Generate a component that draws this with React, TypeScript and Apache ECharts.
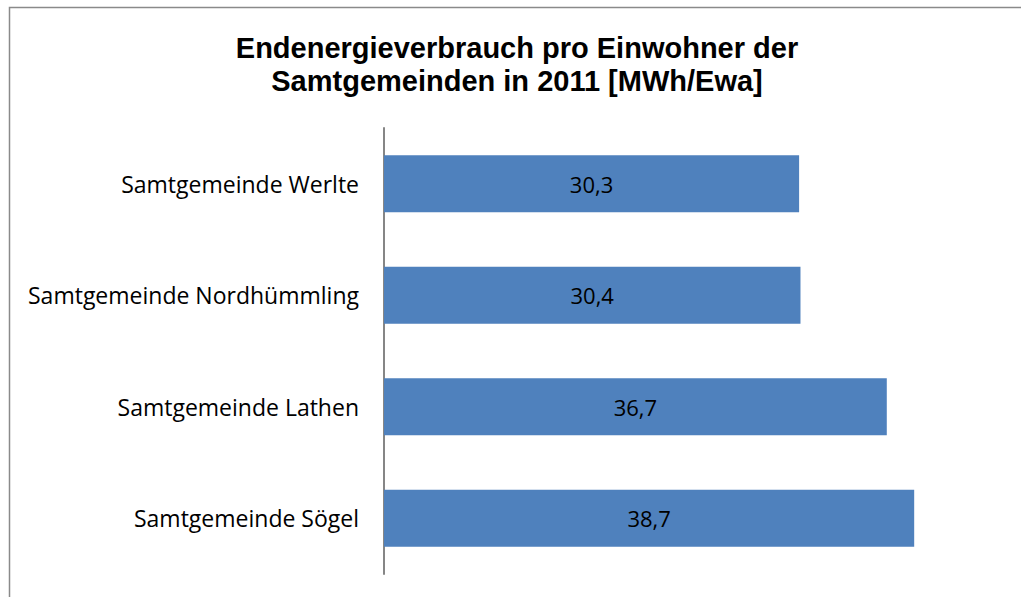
import React, { useEffect, useRef } from "react";
import * as echarts from "echarts";

const categories = [
  "Samtgemeinde Werlte",
  "Samtgemeinde Nordhümmling",
  "Samtgemeinde Lathen",
  "Samtgemeinde Sögel",
];
const values = [30.3, 30.4, 36.7, 38.7];
const titleText = "Endenergieverbrauch pro Einwohner der\nSamtgemeinden in 2011 [MWh/Ewa]";

export default function App() {
  const ref = useRef<HTMLDivElement>(null);
  useEffect(() => {
    if (!ref.current) return;
    const chart = echarts.init(ref.current, null, { renderer: "svg" });
    chart.setOption({
      animation: false,
      backgroundColor: "#ffffff",
      title: {
        text: titleText,
        left: 512,
        textAlign: "center",
        top: 26,
        textStyle: {
          fontFamily: "Liberation Sans",
          fontWeight: "bold",
          fontSize: 29,
          lineHeight: 33,
          color: "#000000",
        },
      },
      graphic: [
        {
          type: "rect",
          shape: { x: 9.5, y: 7.5, width: 1100, height: 700 },
          style: { fill: "none", stroke: "#8a8a8a", lineWidth: 1.5 },
          silent: true,
        },
      ],
      grid: { left: 384, top: 128, width: 616.5, height: 446 },
      xAxis: {
        type: "value",
        min: 0,
        max: 45,
        show: false,
      },
      yAxis: {
        type: "category",
        data: categories,
        inverse: true,
        axisLine: { show: true, lineStyle: { color: "#868686", width: 2 } },
        axisTick: { show: false },
        axisLabel: {
          fontFamily: "Open Sans",
          fontSize: 23,
          color: "#000000",
          margin: 25,
        },
      },
      series: [
        {
          type: "bar",
          data: values,
          barCategoryGap: "49%",
          itemStyle: { color: "#4F81BD" },
          label: {
            show: true,
            position: "inside",
            formatter: (p: any) => String(p.value).replace(".", ","),
            fontFamily: "Open Sans",
            fontSize: 22,
            color: "#000000",
          },
        },
      ],
    });
    return () => chart.dispose();
  }, []);
  return (
    <div
      ref={ref}
      style={{ position: "fixed", left: 0, top: 0, width: 1021, height: 597 }}
    />
  );
}
